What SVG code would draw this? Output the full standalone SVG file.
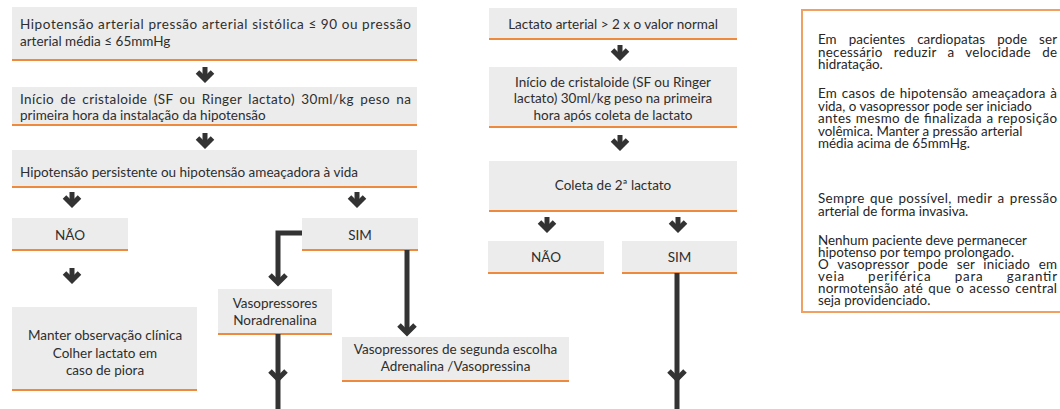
<svg xmlns="http://www.w3.org/2000/svg" width="1060" height="409" viewBox="0 0 1060 409">
<defs>
<style>
.box{fill:#ececec}
.ol{stroke:#ee8a3e;stroke-width:2.2}
.t{font-family:Lato,"Open Sans","Liberation Sans",sans-serif;font-size:13.5px;fill:#2e2e2e}
.c{text-anchor:middle}
.n{font-family:Lato,"Open Sans","Liberation Sans",sans-serif;font-size:13.4px;fill:#262626}
.ln{stroke:#333;stroke-width:5;fill:none}
.hd{stroke:#333;stroke-width:5;fill:none;stroke-linejoin:miter;stroke-linecap:butt}
</style>
<g id="arrow"><path class="ln" d="M0 0V12"/><path class="hd" d="M-7.5 5L0 12.5L7.5 5"/></g>
<g id="head"><path class="hd" d="M-8 -8L0 0L8 -8"/></g>
</defs>

<g id="n1"><rect class="box" x="12" y="7" width="405" height="53"/><line class="ol" x1="12" y1="60" x2="417" y2="60"/>
<text class="t" x="20" y="29" textLength="391" lengthAdjust="spacing">Hipotensão arterial pressão arterial sistólica ≤ 90 ou pressão</text>
<text class="t" x="20" y="46">arterial média ≤ 65mmHg</text></g>

<g id="n2"><rect class="box" x="12" y="87" width="405" height="38"/><line class="ol" x1="12" y1="125" x2="417" y2="125"/>
<text class="t" x="20" y="104" word-spacing="2.5" textLength="391" lengthAdjust="spacing">Início de cristaloide (SF ou Ringer lactato) 30ml/kg peso na</text>
<text class="t" x="20" y="120">primeira hora da instalação da hipotensão</text></g>

<g id="n3"><rect class="box" x="12" y="150" width="405" height="37"/><line class="ol" x1="12" y1="187" x2="417" y2="187"/>
<text class="t" x="20" y="177">Hipotensão persistente ou hipotensão ameaçadora à vida</text></g>

<g id="n4"><rect class="box" x="12" y="218" width="116" height="32"/><line class="ol" x1="12" y1="250" x2="128" y2="250"/>
<text class="t c" x="70" y="240">NÃO</text></g>

<g id="n5"><rect class="box" x="302" y="218" width="116" height="32"/><line class="ol" x1="302" y1="250" x2="418" y2="250"/>
<text class="t c" x="360" y="240">SIM</text></g>

<g id="n6"><rect class="box" x="12" y="307" width="185" height="83"/><line class="ol" x1="12" y1="390" x2="197" y2="390"/>
<text class="t c" x="105" y="340">Manter observação clínica</text>
<text class="t c" x="105" y="358">Colher lactato em</text>
<text class="t c" x="105" y="375">caso de piora</text></g>

<g id="n7"><rect class="box" x="218" y="289" width="114" height="45"/><line class="ol" x1="218" y1="334" x2="332" y2="334"/>
<text class="t c" x="275" y="308">Vasopressores</text>
<text class="t c" x="275" y="325">Noradrenalina</text></g>

<g id="n8"><rect class="box" x="342" y="337" width="227" height="44"/><line class="ol" x1="342" y1="381" x2="569" y2="381"/>
<text class="t c" x="455.5" y="354">Vasopressores de segunda escolha</text>
<text class="t c" x="455.5" y="371">Adrenalina /Vasopressina</text></g>

<g id="n9"><rect class="box" x="489" y="8" width="248" height="31"/><line class="ol" x1="489" y1="39" x2="737" y2="39"/>
<text class="t c" x="613" y="29">Lactato arterial &gt; 2 x o valor normal</text></g>

<g id="n10"><rect class="box" x="489" y="67" width="248" height="60"/><line class="ol" x1="489" y1="127" x2="737" y2="127"/>
<text class="t c" x="613" y="87">Início de cristaloide (SF ou Ringer</text>
<text class="t c" x="613" y="103">lactato) 30ml/kg peso na primeira</text>
<text class="t c" x="613" y="120">hora após coleta de lactato</text></g>

<g id="n11"><rect class="box" x="489" y="161" width="248" height="50"/><line class="ol" x1="489" y1="211" x2="737" y2="211"/>
<text class="t c" x="613" y="190">Coleta de 2ª lactato</text></g>

<g id="n12"><rect class="box" x="488" y="241" width="116" height="32"/><line class="ol" x1="488" y1="273" x2="604" y2="273"/>
<text class="t c" x="546" y="262">NÃO</text></g>

<g id="n13"><rect class="box" x="622" y="241" width="115" height="32"/><line class="ol" x1="622" y1="273" x2="737" y2="273"/>
<text class="t c" x="679.5" y="262">SIM</text></g>

<g id="notes">
<rect x="802" y="10" width="270" height="302" fill="none" stroke="#f0a060" stroke-width="2"/>
<text class="n" x="818" y="44" word-spacing="8.5" textLength="239" lengthAdjust="spacing">Em pacientes cardiopatas pode ser</text>
<text class="n" x="818" y="56.5" word-spacing="7.5" textLength="239" lengthAdjust="spacing">necessário reduzir a velocidade de</text>
<text class="n" x="818" y="69">hidratação.</text>
<text class="n" x="818" y="98" word-spacing="1" textLength="239" lengthAdjust="spacing">Em casos de hipotensão ameaçadora à</text>
<text class="n" x="818" y="110.5">vida, o vasopressor pode ser iniciado</text>
<text class="n" x="818" y="123" word-spacing="0.5" textLength="239" lengthAdjust="spacing">antes mesmo de finalizada a reposição</text>
<text class="n" x="818" y="135.5">volêmica. Manter a pressão arterial</text>
<text class="n" x="818" y="148">média acima de 65mmHg.</text>
<text class="n" x="818" y="203" word-spacing="1.5" textLength="239" lengthAdjust="spacing">Sempre que possível, medir a pressão</text>
<text class="n" x="818" y="215.5">arterial de forma invasiva.</text>
<text class="n" x="818" y="245">Nenhum paciente deve permanecer</text>
<text class="n" x="818" y="257">hipotenso por tempo prolongado.</text>
<text class="n" x="818" y="269" word-spacing="5" textLength="239" lengthAdjust="spacing">O vasopressor pode ser iniciado em</text>
<text class="n" x="818" y="281" word-spacing="19" textLength="239" lengthAdjust="spacing">veia periférica para garantir</text>
<text class="n" x="818" y="293" word-spacing="1.5" textLength="239" lengthAdjust="spacing">normotensão até que o acesso central</text>
<text class="n" x="818" y="305">seja providenciado.</text>
</g>

<g id="connectors">
<use href="#arrow" x="205" y="67"/>
<use href="#arrow" x="205" y="133"/>
<use href="#arrow" x="72" y="192"/>
<use href="#arrow" x="357" y="192"/>
<use href="#arrow" x="72" y="268"/>
<use href="#arrow" x="620" y="45"/>
<use href="#arrow" x="620" y="135"/>
<use href="#arrow" x="547" y="217"/>
<use href="#arrow" x="678" y="217"/>
<path class="ln" d="M302 233H278V281"/><use href="#head" x="278" y="283"/>
<path class="ln" d="M407 250V331"/><use href="#head" x="407" y="333"/>
<path class="ln" d="M278 334V409"/><use href="#head" x="278" y="379"/>
<path class="ln" d="M677 273V409"/><use href="#head" x="677" y="379"/>
</g>
</svg>
